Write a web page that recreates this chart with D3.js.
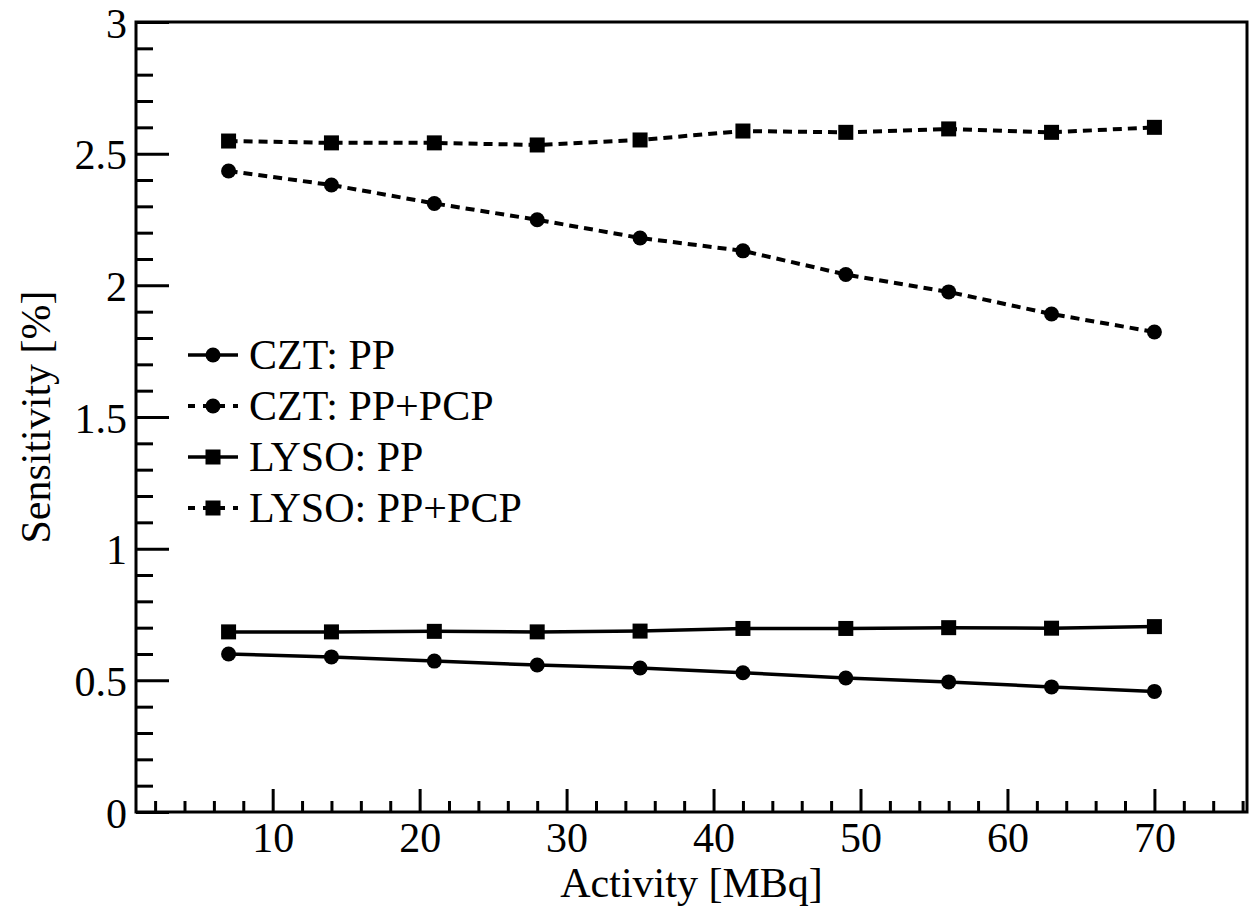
<!DOCTYPE html>
<html>
<head>
<meta charset="utf-8">
<script src="https://cdn.jsdelivr.net/npm/d3@7"></script>
<style>
  body { margin: 0; background: #fff; }
  svg text { font-family: "Liberation Serif", "DejaVu Serif", serif !important; fill: #000; }
</style>
</head>
<body>
<div id="chart"></div>
<script>
// activity values (MBq)
let activity = [7, 14, 21, 28, 35, 42, 49, 56, 63, 70]

// sensitivity in %
let cztPP = [0.600, 0.589, 0.573, 0.558, 0.547, 0.529, 0.509, 0.494, 0.475, 0.458]
let cztPPPCP = [2.434, 2.381, 2.311, 2.249, 2.180, 2.131, 2.041, 1.975, 1.891, 1.823]
let lysoPP = [0.684, 0.684, 0.686, 0.684, 0.687, 0.697, 0.697, 0.700, 0.698, 0.704]
let lysoPPPCP = [2.548, 2.541, 2.541, 2.533, 2.552, 2.586, 2.581, 2.594, 2.581, 2.600]

let seriesNames = ['CZT: PP', 'CZT: PP+PCP', 'LYSO: PP', 'LYSO: PP+PCP']
let xTicks = [10, 20, 30, 40, 50, 60, 70]
let yTicks = [0, 0.5, 1, 1.5, 2, 2.5, 3]

let width = 1256
let height = 910
let frameLeft = 136, frameRight = 1247, frameTop = 22, frameBottom = 812
let serif = '"Liberation Serif", "DejaVu Serif", serif'

let series = [
  {name: seriesNames[0], values: cztPP, marker: 'circle', dashed: false},
  {name: seriesNames[1], values: cztPPPCP, marker: 'circle', dashed: true},
  {name: seriesNames[2], values: lysoPP, marker: 'square', dashed: false},
  {name: seriesNames[3], values: lysoPPPCP, marker: 'square', dashed: true}
]

let svg = d3.select('#chart').append('svg')
  .attr('width', width)
  .attr('height', height)
  .attr('font-family', serif)

let xScale = d3.scaleLinear().domain([0.7, 76.3]).range([frameLeft, frameRight])
let yScale = d3.scaleLinear().domain([0, 3]).range([frameBottom, frameTop])

// -- minor ticks
let xMinor = d3.range(2, 77, 2).filter(v => v % 10 != 0)
let yMinor = d3.range(1, 30).filter(v => v % 5 != 0).map(v => v / 10)

svg.append('g')
  .attr('transform', `translate(0, ${frameBottom})`)
  .call(d3.axisBottom(xScale).tickValues(xMinor).tickSize(-11).tickFormat(''))
  .call(g => g.select('.domain').remove())
  .selectAll('line').attr('stroke', '#000').attr('stroke-width', 3)

svg.append('g')
  .attr('transform', `translate(${frameLeft}, 0)`)
  .call(d3.axisLeft(yScale).tickValues(yMinor).tickSize(-17).tickFormat(''))
  .call(g => g.select('.domain').remove())
  .selectAll('line').attr('stroke', '#000').attr('stroke-width', 3)

// -- major ticks and labels
let xAxis = svg.append('g')
  .attr('transform', `translate(0, ${frameBottom})`)
  .call(d3.axisBottom(xScale).tickValues(xTicks).tickSize(-23).tickPadding(10).tickFormat(d3.format('d')))
  .attr('font-family', serif)
  .attr('font-size', 42)
xAxis.select('.domain').remove()
xAxis.selectAll('line').attr('stroke', '#000').attr('stroke-width', 3)

let yAxis = svg.append('g')
  .attr('transform', `translate(${frameLeft}, 0)`)
  .call(d3.axisLeft(yScale).tickValues(yTicks).tickSize(-33).tickPadding(9).tickFormat(d => String(d)))
  .attr('font-family', serif)
  .attr('font-size', 42)
yAxis.select('.domain').remove()
yAxis.selectAll('line').attr('stroke', '#000').attr('stroke-width', 3)
yAxis.selectAll('text').attr('dy', '0.36em')

// frame
svg.append('rect')
  .attr('x', frameLeft).attr('y', frameTop)
  .attr('width', frameRight - frameLeft).attr('height', frameBottom - frameTop)
  .attr('fill', 'none').attr('stroke', '#000').attr('stroke-width', 3)

// axis titles
svg.append('text')
  .attr('x', (frameLeft + frameRight) / 2).attr('y', 897)
  .attr('text-anchor', 'middle')
  .attr('font-size', 42)
  .text('Activity [MBq]')

svg.append('text')
  .attr('transform', `translate(50, ${(frameTop + frameBottom) / 2}) rotate(-90)`)
  .attr('text-anchor', 'middle')
  .attr('font-size', 42)
  .text('Sensitivity [%]')

// lines
let line = d3.line()
  .x((d, i) => xScale(activity[i]))
  .y(d => yScale(d))

function drawMarker(g, type, x, y) {
  if (type == 'circle') {
    g.append('circle').attr('cx', x).attr('cy', y).attr('r', 7.5).attr('fill', '#000')
  } else {
    g.append('rect').attr('x', x - 7.5).attr('y', y - 7.5).attr('width', 15).attr('height', 15).attr('fill', '#000')
  }
}

series.forEach(s => {
  svg.append('path')
    .datum(s.values)
    .attr('d', line)
    .attr('fill', 'none')
    .attr('stroke', '#000')
    .attr('stroke-width', s.dashed ? 4 : 3.5)
    .attr('stroke-dasharray', s.dashed ? '9,6' : null)

  let g = svg.append('g')
  s.values.forEach((v, i) => drawMarker(g, s.marker, xScale(activity[i]), yScale(v)))
})

// legend
let legendY = [355, 406, 457, 508]
series.forEach((s, i) => {
  let g = svg.append('g').attr('transform', `translate(0, ${legendY[i]})`)
  g.append('line')
    .attr('x1', 188).attr('x2', 238).attr('y1', 0).attr('y2', 0)
    .attr('stroke', '#000')
    .attr('stroke-width', s.dashed ? 4 : 3.5)
    .attr('stroke-dasharray', s.dashed ? '7,8' : null)
  drawMarker(g, s.marker, 213, 0)
  g.append('text')
    .attr('x', 249).attr('y', 14)
    .attr('font-size', 42)
    .text(s.name)
})
</script>
</body>
</html>
